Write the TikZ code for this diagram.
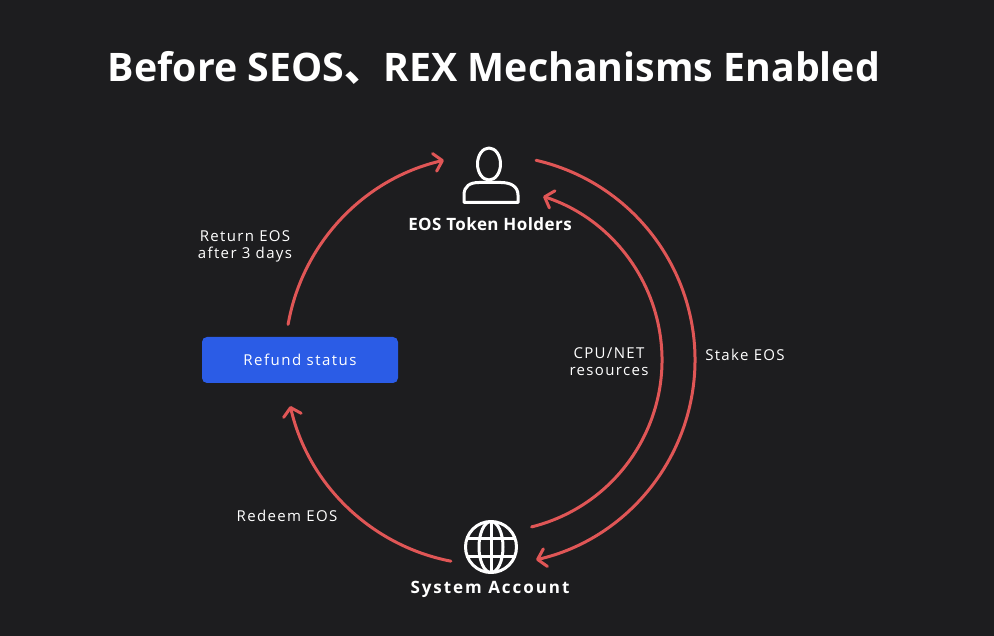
\documentclass[tikz,border=0pt]{standalone}
\usepackage{fontspec}
\setmainfont{Open Sans}
\newfontfamily\cjk{Noto Sans CJK SC}
\newfontfamily\lblfont[LetterSpace=9]{Open Sans}
\newfontfamily\btnfont[LetterSpace=10]{Open Sans}
\newfontfamily\holdfont[LetterSpace=2.5]{Open Sans}
\newfontfamily\sysfont[LetterSpace=11.5]{Open Sans}
\usetikzlibrary{arrows.meta}
\definecolor{bg}{RGB}{29,29,31}
\definecolor{arcred}{RGB}{224,86,86}
\definecolor{btn}{RGB}{43,92,230}
\begin{document}
\begin{tikzpicture}[x=1pt,y=-1pt,
  flow/.style={draw=arcred, line width=3pt, line cap=round,
    -{Straight Barb[length=8pt,width=18pt,line cap=round,line join=round]}},
  icon/.style={draw=white, line width=3pt, line join=round},
  lbl/.style={text=white, font=\lblfont\fontsize{15}{17}\selectfont, align=center, inner sep=0pt},
  captext/.style={text=white, font=\bfseries\fontsize{17}{20}\selectfont, inner sep=0pt},
  box/.style={fill=btn, rounded corners=5pt, minimum width=196pt, minimum height=46pt,
    text=white, font=\btnfont\fontsize{15}{18}\selectfont}]
\fill[bg] (0,0) rectangle (994,636);
\useasboundingbox (0,0) rectangle (994,636);

% title
\node[text=white, font=\bfseries\fontsize{39.3}{48}\selectfont, inner sep=0pt] (title) at (494,68)
  {Before SEOS{\cjk 、}REX Mechanisms Enabled};

% nodes
\node[captext, font=\holdfont\bfseries\fontsize{17}{20}\selectfont] (holders) at (490,224) {EOS Token Holders};
\node[captext, font=\sysfont\bfseries\fontsize{17}{20}\selectfont] (system) at (490,589) {System Account};
\node[box] (refund) at (300,360) {Refund status};

% person icon
\draw[icon] (489,164) ellipse[x radius=11.5, y radius=16];
\draw[icon] (464,202.5) -- (464,195) .. controls (464,186) and (470,182.5) .. (479,182.5)
  -- (501,182.5) .. controls (510,182.5) and (518,186) .. (518,195) -- (518,202.5) -- cycle;

% globe icon
\draw[icon] (491,547) circle[radius=25.5];
\draw[icon] (491,547) ellipse[x radius=12, y radius=25.5];
\draw[icon] (491,521.5) -- (491,572.5);
\draw[icon] (467,538) -- (515,538);
\draw[icon] (467,556) -- (515,556);

% arc start points
\coordinate (ctr) at (490,360);
\coordinate (s1) at (288.1,324.4);
\coordinate (s2) at (450.9,561.2);
\coordinate (s3) at (536.1,160.3);
\coordinate (s4) at (531.6,526.9);

% arcs
\draw[flow] (s1) arc[start angle=-170, end angle=-103, radius=205];
\draw[flow] (s2) arc[start angle=101, end angle=167, radius=205];
\draw[flow] (s3) arc[start angle=-77, end angle=77, radius=205];
\draw[flow] (s4) arc[start angle=76, end angle=-72, radius=172];

% labels
\node[lbl] (lret) at (245,246) {Return EOS\\after 3 days};
\node[lbl] (lcpu) at (609,362) {CPU/NET\\resources};
\node[lbl] (lstake) at (745,355) {Stake EOS};
\node[lbl] (lred) at (287,516) {Redeem EOS};
\end{tikzpicture}
\end{document}
